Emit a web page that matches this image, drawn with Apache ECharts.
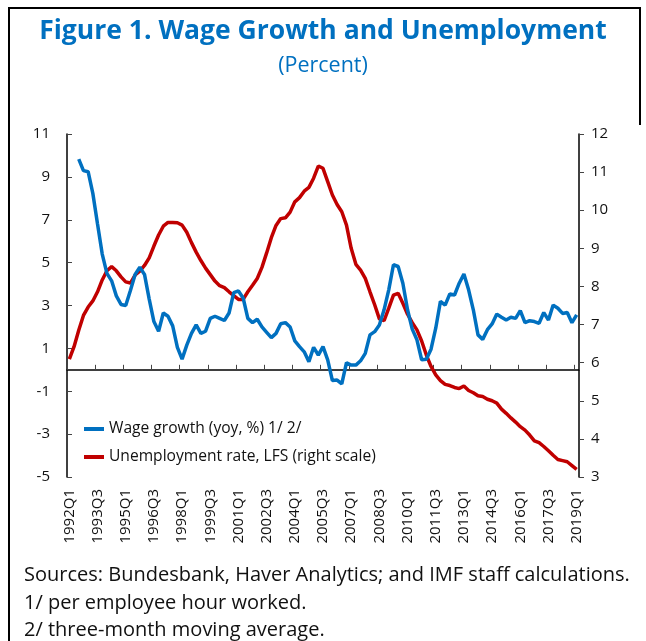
<!DOCTYPE html>
<html>
<head>
<meta charset="utf-8">
<script src="https://cdn.jsdelivr.net/npm/echarts@6/dist/echarts.min.js"></script>
<style>
html,body{margin:0;padding:0;background:#fff;}
#chart{width:646px;height:641px;}
</style>
</head>
<body>
<div id="chart"></div>
<script>
// Quarters 1992Q1 .. 2019Q1
var categories = [];
for (var y = 1992; y <= 2019; y++) {
  for (var q = 1; q <= 4; q++) {
    if (y === 2019 && q > 1) break;
    categories.push(y + 'Q' + q);
  }
}

// Wage growth (yoy, %) – left scale
var wageGrowth = [
  null, null, 9.83, 9.29, 9.24, 8.23, 6.8, 5.4, 4.5, 4.15,
  3.45, 3.05, 3.0, 3.7, 4.45, 4.78, 4.45, 3.3, 2.25, 1.8,
  2.65, 2.5, 2.05, 1.05, 0.5, 1.15, 1.7, 2.1, 1.7, 1.8,
  2.4, 2.5, 2.4, 2.3, 2.65, 3.6, 3.68, 3.35, 2.4, 2.2,
  2.36, 2.0, 1.75, 1.5, 1.7, 2.15, 2.2, 2.0, 1.35, 1.08,
  0.84, 0.38, 1.05, 0.69, 1.08, 0.46, -0.5, -0.48, -0.66, 0.33,
  0.22, 0.22, 0.42, 0.77, 1.63, 1.78, 2.09, 2.8, 3.73, 4.9,
  4.82, 4.04, 2.8, 1.9, 1.4, 0.47, 0.49, 0.96, 1.94, 3.19,
  3.02, 3.54, 3.49, 4.04, 4.47, 3.73, 2.8, 1.63, 1.42, 1.87,
  2.14, 2.6, 2.45, 2.32, 2.45, 2.4, 2.76, 2.2, 2.29, 2.25,
  2.17, 2.67, 2.32, 3.02, 2.87, 2.63, 2.67, 2.2, 2.56
];

// Unemployment rate, LFS – right scale
var unemployment = [
  6.09, 6.42, 6.85, 7.24, 7.46, 7.62, 7.86, 8.17, 8.41, 8.52,
  8.41, 8.25, 8.12, 8.09, 8.3, 8.4, 8.55, 8.75, 9.06, 9.35,
  9.58, 9.68, 9.68, 9.67, 9.61, 9.42, 9.15, 8.9, 8.68, 8.48,
  8.31, 8.14, 8.02, 7.97, 7.86, 7.76, 7.66, 7.66, 7.86, 8.03,
  8.21, 8.5, 8.88, 9.28, 9.6, 9.78, 9.8, 9.95, 10.22, 10.33,
  10.5, 10.6, 10.84, 11.16, 11.1, 10.75, 10.4, 10.15, 9.96, 9.61,
  9.0, 8.58, 8.43, 8.21, 7.86, 7.52, 7.15, 7.1, 7.43, 7.77,
  7.82, 7.56, 7.27, 7.05, 6.86, 6.57, 6.2, 5.9, 5.68, 5.53,
  5.43, 5.4, 5.35, 5.32, 5.39, 5.27, 5.21, 5.13, 5.11, 5.04,
  5.0, 4.94, 4.78, 4.67, 4.55, 4.44, 4.32, 4.23, 4.1, 3.95,
  3.9, 3.8, 3.69, 3.57, 3.46, 3.43, 3.4, 3.3, 3.2
];

var titleText = 'Figure 1. Wage Growth and Unemployment';
var subtitleText = '(Percent)';
var seriesNames = ['Wage growth (yoy, %) 1/ 2/', 'Unemployment rate, LFS (right scale)'];
var notes = [
  'Sources: Bundesbank, Haver Analytics; and IMF staff calculations.',
  '1/ per employee hour worked.',
  '2/ three-month moving average.'
];

var FONT = '"Open Sans", "Noto Sans", sans-serif';
var BLUE = '#0070C0';
var RED = '#C00000';

var chart = echarts.init(document.getElementById('chart'), null, {renderer: 'canvas'});

var option = {
  animation: false,
  backgroundColor: '#fff',
  title: [
    {
      text: titleText, left: 'center', top: 13,
      textStyle: {color: BLUE, fontFamily: FONT, fontWeight: 'bold', fontSize: 26.5}
    },
    {
      text: subtitleText, left: 'center', top: 50,
      textStyle: {color: BLUE, fontFamily: FONT, fontWeight: 'normal', fontSize: 21.5}
    }
  ],
  legend: {
    orient: 'vertical', left: 79, top: 416,
    itemWidth: 20, itemHeight: 4, itemGap: 12,
    icon: 'rect',
    textStyle: {fontFamily: FONT, fontSize: 15.6, color: '#111'},
    data: seriesNames
  },
  grid: {left: 67, right: 67, top: 134, bottom: 164, containLabel: false},
  xAxis: [
    {
      type: 'category', data: categories, boundaryGap: true, position: 'bottom',
      axisLine: {show: true, onZero: true, onZeroAxisIndex: 0, lineStyle: {color: '#000', width: 1.5}},
      axisTick: {show: true, inside: true, length: 5, interval: 5, lineStyle: {color: '#444'}},
      axisLabel: {show: false},
      splitLine: {show: false}
    },
    {
      type: 'category', data: categories, boundaryGap: true, position: 'bottom',
      axisLine: {show: false, onZero: false},
      axisTick: {show: false},
      axisLabel: {show: true, rotate: 90, interval: 5, margin: 12,
        fontFamily: FONT, fontSize: 15, color: '#111'},
      splitLine: {show: false}
    }
  ],
  yAxis: [
    {
      type: 'value', min: -5, max: 11, interval: 2, position: 'left',
      axisLine: {show: true, onZero: false, lineStyle: {color: '#000', width: 1.5}},
      axisTick: {show: true, inside: true, length: 5, lineStyle: {color: '#444'}},
      axisLabel: {margin: 17, fontFamily: FONT, fontSize: 15, color: '#111'},
      splitLine: {show: false}
    },
    {
      type: 'value', min: 3, max: 12, interval: 1, position: 'right',
      axisLine: {show: true, onZero: false, lineStyle: {color: '#000', width: 1.5}},
      axisTick: {show: true, inside: false, length: 5, lineStyle: {color: '#444'}},
      axisLabel: {margin: 12, fontFamily: FONT, fontSize: 15, color: '#111'},
      splitLine: {show: false}
    }
  ],
  series: [
    {
      name: seriesNames[0], type: 'line', xAxisIndex: 0, yAxisIndex: 0,
      data: wageGrowth, showSymbol: false, symbol: 'none',
      lineStyle: {color: BLUE, width: 3.5}, itemStyle: {color: BLUE}, z: 3
    },
    {
      name: seriesNames[1], type: 'line', xAxisIndex: 0, yAxisIndex: 1,
      data: unemployment, showSymbol: false, symbol: 'none',
      lineStyle: {color: RED, width: 3.5}, itemStyle: {color: RED}, z: 2
    }
  ],
  graphic: [
    {type: 'polyline', shape: {points: [[9, 641], [9, 8], [640, 8], [640, 125]]},
      style: {stroke: '#000', lineWidth: 2, fill: null}, silent: true},
    {type: 'text', left: 24, top: 565, style: {text: notes[0], font: '20px ' + FONT, fill: '#111'}},
    {type: 'text', left: 24, top: 593, style: {text: notes[1], font: '20px ' + FONT, fill: '#111'}},
    {type: 'text', left: 24, top: 620, style: {text: notes[2], font: '20px ' + FONT, fill: '#111'}}
  ]
};
chart.setOption(option);
</script>
</body>
</html>
